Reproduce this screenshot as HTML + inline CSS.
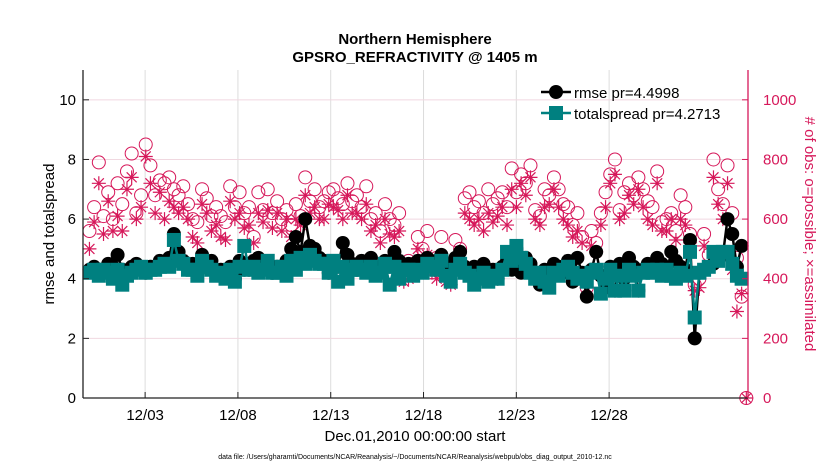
<!DOCTYPE html>
<html><head><meta charset="utf-8"><style>
body{margin:0;background:#fff;font-family:"Liberation Sans",sans-serif}
svg{display:block}
</style></head><body>
<svg id="chart" width="830" height="470" viewBox="0 0 830 470">
<text x="415" y="44" text-anchor="middle" font-size="15" font-weight="bold">Northern Hemisphere</text>
<text x="415" y="62" text-anchor="middle" font-size="15" font-weight="bold">GPSRO_REFRACTIVITY @ 1405 m</text>
<g id="grid"></g><g id="marks"></g><g id="axes"></g>
<text transform="translate(54,234) rotate(-90)" text-anchor="middle" font-size="15">rmse and totalspread</text>
<text transform="translate(805,234) rotate(90)" text-anchor="middle" font-size="15" fill="#d6185a"># of obs: o=possible; ×=assimilated</text>
<text x="415" y="441" text-anchor="middle" font-size="15">Dec.01,2010 00:00:00 start</text>
<text x="415" y="459" text-anchor="middle" font-size="7">data file: /Users/gharamti/Documents/NCAR/Reanalysis/~/Documents/NCAR/Reanalysis/webpub/obs_diag_output_2010-12.nc</text>
<g>
<line x1="541" y1="92" x2="571" y2="92" stroke="#000" stroke-width="2.5"/><circle cx="556" cy="92" r="7" fill="#000"/>
<text x="574" y="98" font-size="15">rmse pr=4.4998</text>
<line x1="541" y1="113" x2="571" y2="113" stroke="#008080" stroke-width="2.5"/><rect x="549" y="106" width="14" height="14" fill="#008080"/>
<text x="574" y="119" font-size="15">totalspread pr=4.2713</text>
</g>
</svg>
<script>
const rmse=[4.3,4.4,4.2,4.3,4.5,4.4,4.8,4.3,4.2,4.4, 4.5,4.3,4.2,4.4,4.4,4.6,4.5,4.7,5.5,4.9, 4.6,4.4,4.5,4.2,4.8,4.5,4.6,4.2,4.3,4.1, 4.4,4.0,4.6,4.3,4.3,4.6,4.7,4.4,4.5,4.2, 4.4,4.3,4.6,5.0,5.4,4.9,6.0,5.1,5.0,4.7, 4.6,4.2,4.5,4.4,5.2,4.8,4.5,4.3,4.6,4.4, 4.7,4.3,4.4,4.6,4.4,4.9,4.6,4.3,4.5,4.2, 4.6,4.5,4.7,4.4,4.6,4.8,4.5,4.2,4.7,4.9, 4.4,4.3,4.4,4.1,4.5,4.2,4.3,4.0,4.4,4.6, 4.3,5.0,4.2,4.7,4.5,4.1,3.8,4.3,4.0,4.5, 4.4,4.2,4.6,3.9,4.7,4.2,3.4,4.3,4.9,4.1, 3.7,4.4,3.6,4.5,4.0,4.7,4.4,3.6,4.3,4.5, 4.4,4.7,4.5,4.2,4.9,4.6,4.4,4.3,5.3,2.0, 4.2,4.3,4.4,4.5,4.7,4.8,6.0,5.5,4.4,5.1,null];
const spread=[4.2,4.3,4.1,4.3,4.2,4.0,4.3,3.8,4.1,4.2, 4.3,4.4,4.2,4.3,4.3,4.4,4.5,4.4,5.3,4.6, 4.5,4.3,4.3,4.1,4.6,4.4,4.3,4.1,4.2,4.0, 4.3,3.9,4.4,5.1,4.3,4.4,4.2,4.3,4.6,4.2, 4.2,4.4,4.1,4.6,4.3,4.7,4.5,4.8,4.6,4.5, 4.5,4.2,4.6,3.9,4.4,4.0,4.3,4.4,4.3,4.2, 4.4,4.1,4.2,4.5,3.8,4.4,4.0,4.3,4.3,4.1, 4.3,4.2,4.5,4.4,4.3,4.6,4.1,3.9,4.3,4.5, 4.2,4.1,3.8,4.0,4.2,3.9,4.1,4.0,4.3,4.9, 4.6,5.1,4.7,4.5,4.2,4.0,4.2,3.9,3.7,4.2, 4.1,4.3,4.4,4.2,4.0,4.1,3.9,4.2,4.3,3.5, 4.0,4.3,3.6,4.1,3.6,4.3,4.1,3.6,4.2,4.3, 4.2,4.3,4.1,4.3,4.1,4.0,4.2,4.1,4.9,2.7, 4.2,4.3,4.4,4.9,4.6,4.9,4.9,4.5,4.1,4.0,null];
const possible=[560,640,790,610,690,600,720,650,760,820, 620,680,850,780,680,730,720,740,700,680, 710,650,600,590,700,670,610,640,610,590, 710,640,690,620,640,540,690,630,700,620, 660,600,630,580,650,610,740,660,700,640, 660,690,700,670,650,720,660,680,640,710, 600,620,560,650,600,580,620,420,460,450, 540,500,560,440,470,540,440,420,530,500, 670,690,640,660,620,700,650,670,690,640, 770,690,750,720,780,630,610,700,680,740, 700,650,640,580,620,540,370,560,520,620, 690,750,800,630,690,720,680,740,700,660, 640,760,590,600,620,560,680,640,550,380, 400,550,480,800,700,650,780,620,470,340,0];
const assimilated=[500,590,720,550,660,560,610,560,700,740, 600,640,810,720,620,690,600,660,640,620, 640,600,540,520,650,620,560,580,540,530, 660,600,620,570,580,520,620,590,630,570, 620,560,600,540,600,580,680,620,640,600, 600,650,640,630,600,680,620,620,600,650, 560,580,520,600,550,540,560,390,400,430, 500,440,480,420,400,430,390,380,460,450, 620,600,580,600,560,620,590,610,640,580, 700,640,720,680,740,600,580,640,650,700, 640,600,580,540,560,520,370,510,490,580, 640,720,750,600,620,680,650,700,640,600, 580,720,560,560,600,530,600,580,520,360, 370,510,450,740,650,600,720,430,290,350,0];
const xTickDays=[2,7,12,17,22,27];
const xTickLabels=["12/03","12/08","12/13","12/18","12/23","12/28"];
const yTicks=[0,2,4,6,8,10];
const rTicks=[0,200,400,600,800,1000];
const t0=-1.0, dt=0.2528;

const L=83,R=748,T=70,B=398;
const X=d=>108+d*18.56;
const Y=v=>B-(v/11)*(B-T);
const YR=v=>B-(v/1100)*(B-T);
const NS="http://www.w3.org/2000/svg";
function mk(tag,attrs,parent){const e=document.createElementNS(NS,tag);for(const k in attrs)e.setAttribute(k,attrs[k]);parent.appendChild(e);return e;}
const grid=document.getElementById('grid'),marks=document.getElementById('marks'),axes=document.getElementById('axes');

xTickDays.forEach((d,i)=>{
  const g=mk('line',{x1:X(d),x2:X(d),y1:T,y2:B,stroke:'#dcdcdc','stroke-width':1},grid);
  
  
  mk('line',{x1:X(d),x2:X(d),y1:B,y2:B-6,stroke:'#222'},axes);
  const t=mk('text',{x:X(d),y:420,'text-anchor':'middle','font-size':15},axes);
  t.textContent=xTickLabels[i];
  
  
});
yTicks.forEach(v=>{
  const g=mk('line',{x1:L,x2:R,y1:Y(v),y2:Y(v),stroke:'#f0d8e0','stroke-width':1},grid);
  
  
  mk('line',{x1:L,x2:L+6,y1:Y(v),y2:Y(v),stroke:'#222'},axes);
  const t=mk('text',{x:76,y:Y(v)+5,'text-anchor':'end','font-size':15},axes);
  t.textContent=v;
  
  
});
rTicks.forEach(v=>{
  mk('line',{x1:R,x2:R-6,y1:YR(v),y2:YR(v),stroke:'#d6185a'},axes);
  const t=mk('text',{x:763,y:YR(v)+5,'font-size':15,fill:'#d6185a'},axes);
  t.textContent=v;
  
  
});
mk('line',{x1:L,x2:L,y1:T,y2:B,stroke:'#222','stroke-width':1.3},axes);
mk('line',{x1:L,x2:R,y1:B,y2:B,stroke:'#222','stroke-width':1.3},axes);
mk('line',{x1:R,x2:R,y1:T,y2:B,stroke:'#d6185a','stroke-width':1.3},axes);

const M='#d6185a';
possible.forEach((v,i)=>{if(v==null)return;
  const c=mk('circle',{cx:X(t0+i*dt),cy:YR(v),r:6.5,fill:'none',stroke:M,'stroke-width':1},marks);
  
  
});
assimilated.forEach((v,i)=>{if(v==null)return;
  const x=X(t0+i*dt),y=YR(v),s=7;
  const p=mk('path',{d:`M${x-s} ${y}H${x+s}M${x} ${y-s}V${y+s}M${x-5} ${y-5}L${x+5} ${y+5}M${x-5} ${y+5}L${x+5} ${y-5}`,stroke:M,'stroke-width':1.2},marks);
  
  
});
function series(arr,color,name,shape){
  let d='';arr.forEach((v,i)=>{if(v==null)return;d+=(d?'L':'M')+X(t0+i*dt).toFixed(1)+' '+Y(v).toFixed(1);});
  const l=mk('path',{d:d,fill:'none',stroke:color,'stroke-width':2.5},marks);
  
  
  arr.forEach((v,i)=>{if(v==null)return;const x=X(t0+i*dt),y=Y(v);
    const e=shape==='c'?mk('circle',{cx:x,cy:y,r:7,fill:color},marks):mk('rect',{x:x-7,y:y-7,width:14,height:14,fill:color},marks);
    
    
  });
}
series(rmse,'#000','rmse','c');
series(spread,'#008080','totalspread','s');
</script>
</body></html>
